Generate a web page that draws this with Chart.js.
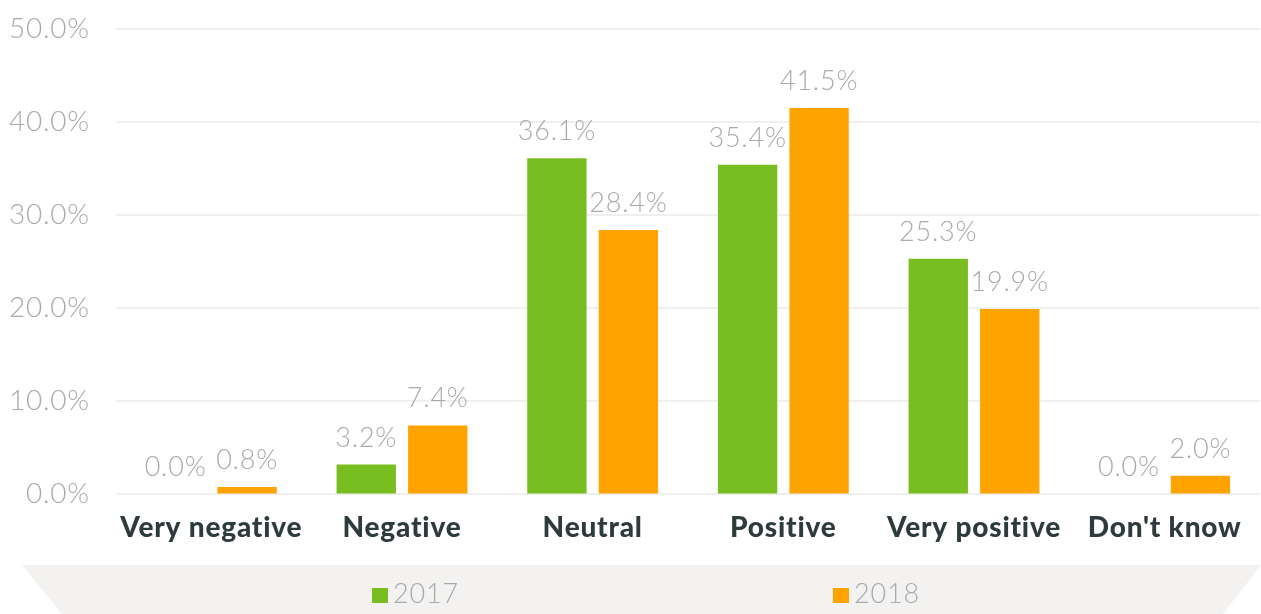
<!DOCTYPE html>
<html>
<head>
<meta charset="utf-8">
<script src="https://cdn.jsdelivr.net/npm/chart.js@4"></script>
<style>
  html, body { margin: 0; padding: 0; background: #fff; }
  #wrap { width: 1261px; height: 614px; position: relative; }
</style>
</head>
<body>
<div id="wrap"><canvas id="chart"></canvas></div>
<script>
const categories = ['Very negative', 'Negative', 'Neutral', 'Positive', 'Very positive', "Don't know"];
const seriesNames = ['2017', '2018'];
const values2017 = [0.0, 3.2, 36.1, 35.4, 25.3, 0.0];
const values2018 = [0.8, 7.4, 28.4, 41.5, 19.9, 2.0];
const seriesColors = ['#78be20', '#ffa300'];
const yTicks = [0, 10, 20, 30, 40, 50];

const labelGray = '#a7abab';
const fontFamily = 'Lato, "Open Sans", sans-serif';

// slightly spaced letters, like the original font
const spacing = {
  id: 'spacing',
  beforeDraw(chart) { chart.ctx.letterSpacing = '0.8px'; },
  afterDraw(chart) { chart.ctx.letterSpacing = '0px'; }
};

// value labels above each bar
const valueLabels = {
  id: 'valueLabels',
  afterDatasetsDraw(chart) {
    const ctx = chart.ctx;
    ctx.save();
    ctx.font = '300 27px ' + fontFamily;
    ctx.fillStyle = labelGray;
    ctx.textAlign = 'center';
    ctx.textBaseline = 'alphabetic';
    chart.data.datasets.forEach((ds, i) => {
      chart.getDatasetMeta(i).data.forEach((bar, j) => {
        ctx.fillText(ds.data[j].toFixed(1) + '%', bar.x, bar.y - 18);
      });
    });
    ctx.restore();
  }
};

// grey band with the legend at the bottom
const legendBand = {
  id: 'legendBand',
  beforeDraw(chart) {
    const ctx = chart.ctx;
    const w = chart.width, h = chart.height;
    const top = 565;
    ctx.save();
    ctx.fillStyle = '#f3f2f1';
    ctx.beginPath();
    ctx.moveTo(22, top);
    ctx.lineTo(w, top);
    ctx.lineTo(w - 38, h);
    ctx.lineTo(62, h);
    ctx.closePath();
    ctx.fill();

    const itemX = [372, 833];
    ctx.font = '300 27px ' + fontFamily;
    ctx.textBaseline = 'alphabetic';
    ctx.textAlign = 'left';
    chart.data.datasets.forEach((ds, i) => {
      ctx.fillStyle = ds.backgroundColor;
      ctx.fillRect(itemX[i], 588, 16, 15);
      ctx.fillStyle = labelGray;
      ctx.fillText(ds.label, itemX[i] + 21, 603);
    });
    ctx.restore();
  }
};

new Chart(document.getElementById('chart'), {
  type: 'bar',
  data: {
    labels: categories,
    datasets: [
      { label: seriesNames[0], data: values2017, backgroundColor: seriesColors[0] },
      { label: seriesNames[1], data: values2018, backgroundColor: seriesColors[1] }
    ]
  },
  options: {
    responsive: true,
    maintainAspectRatio: false,
    animation: false,
    layout: { padding: { top: 0, left: 0, right: 1, bottom: 52 } },
    datasets: { bar: { categoryPercentage: 0.75, barPercentage: 0.83 } },
    scales: {
      x: {
        grid: { display: false, drawTicks: false },
        border: { display: false },
        ticks: {
          color: '#2e3b3c',
          font: { family: fontFamily, size: 28, weight: 900 },
          padding: 17,
          maxRotation: 0,
          autoSkip: false
        }
      },
      y: {
        min: 0,
        max: 50,
        afterBuildTicks: (axis) => { axis.ticks = yTicks.map(v => ({ value: v })); },
        afterFit: (axis) => { axis.width = 116; },
        grid: { color: '#efefef', lineWidth: 2, drawTicks: false },
        border: { display: false },
        ticks: {
          color: labelGray,
          // small line height keeps the plot top close to the 50% label
          font: { family: fontFamily, size: 28, weight: 300, lineHeight: 0.2 },
          padding: 26,
          callback: (v) => v.toFixed(1) + '%'
        }
      }
    },
    plugins: {
      legend: { display: false },
      tooltip: { enabled: false }
    }
  },
  plugins: [spacing, valueLabels, legendBand]
});
</script>
</body>
</html>
